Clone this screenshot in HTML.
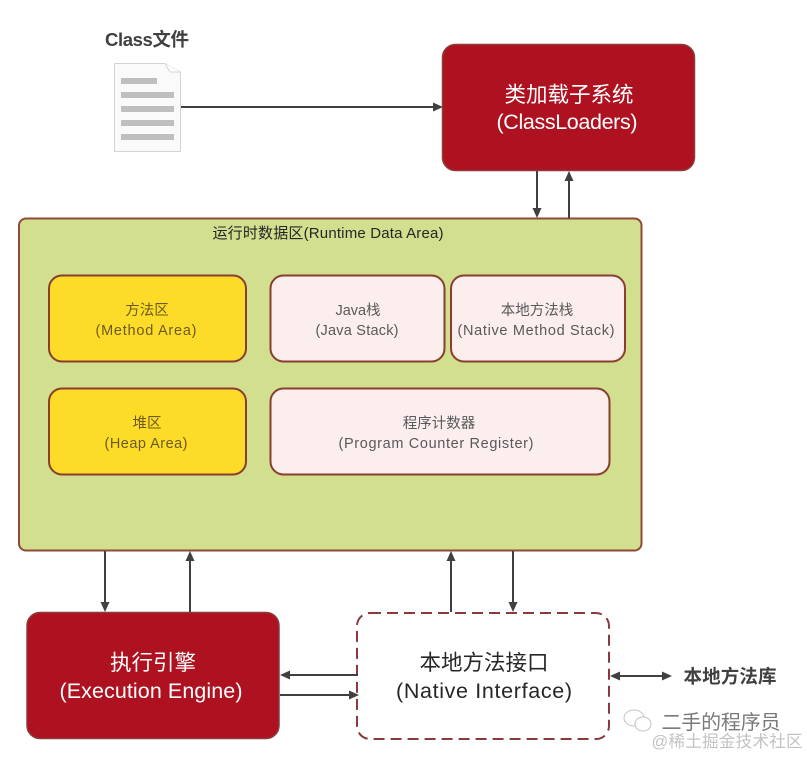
<!DOCTYPE html>
<html><head><meta charset="utf-8"><style>
html,body{margin:0;padding:0;background:#fff}
svg{display:block}
text{font-family:"Liberation Sans","Noto Sans CJK SC",sans-serif;text-anchor:middle}
.s{font-size:14.500px;fill:#595959}
.o{font-size:14.500px;fill:#6e5a1e}
.w{font-size:21.500px;fill:#fff}
.k{font-size:21.500px;fill:#262626}
.b{font-size:18.500px;font-weight:bold;fill:#404040}
.l{stroke:#404040;stroke-width:2;fill:none}
.a{fill:#404040}
</style></head><body>
<svg width="807" height="757" viewBox="0 0 807 757" xmlns="http://www.w3.org/2000/svg">
<text x="147" y="46" class="b" textLength="84">Class文件</text>
<path d="M114.500 63.500H165L180.500 72V151.500H114.500Z" fill="#fafafa" stroke="#d4d4d4"/>
<path d="M165 63.500L170 72L180.500 72" fill="#fff" stroke="#d4d4d4"/>
<g fill="#bfbfbf"><rect x="121" y="78" width="36" height="6"/><rect x="121" y="92" width="53" height="6"/><rect x="121" y="106" width="53" height="6"/><rect x="121" y="120" width="53" height="6"/><rect x="121" y="134" width="53" height="6"/></g>

<rect x="442.500" y="44.500" width="252" height="126" rx="13" fill="#ae1220" stroke="#8c3a3a" stroke-width="1.500"/>
<text x="569" y="102" class="w">类加载子系统</text>
<text x="567" y="129" class="w" textLength="141">(ClassLoaders)</text>

<rect x="19" y="218.500" width="622.500" height="332" rx="7" fill="#d1df8f" stroke="#8f4a35" stroke-width="2"/>
<text x="328" y="238" font-size="15" fill="#262626" textLength="231">运行时数据区(Runtime Data Area)</text>

<g stroke="#8a3e30" stroke-width="2">
<rect x="49" y="275.500" width="197" height="86" rx="13" fill="#fcdc28"/>
<rect x="49" y="388.500" width="197" height="86" rx="13" fill="#fcdc28"/>
<rect x="270.500" y="275.500" width="174" height="86" rx="13" fill="#fdeeee"/>
<rect x="451" y="275.500" width="174" height="86" rx="13" fill="#fdeeee"/>
<rect x="270.500" y="388.500" width="339" height="86" rx="13" fill="#fdeeee"/>
</g>
<text x="147" y="315" class="o">方法区</text>
<text x="146" y="335" class="o" textLength="101">(Method Area)</text>
<text x="147" y="428" class="o">堆区</text>
<text x="146" y="448" class="o" textLength="83">(Heap Area)</text>
<text x="358" y="315" class="s" textLength="45">Java栈</text>
<text x="357" y="335" class="s" textLength="83">(Java Stack)</text>
<text x="537" y="315" class="s">本地方法栈</text>
<text x="536" y="335" class="s" textLength="157">(Native Method Stack)</text>
<text x="439" y="428" class="s">程序计数器</text>
<text x="436" y="448" class="s" textLength="195">(Program Counter Register)</text>

<rect x="27" y="612.500" width="252" height="126" rx="13" fill="#ae1220" stroke="#8c3a3a" stroke-width="1.500"/>
<text x="153" y="670" class="w">执行引擎</text>
<text x="151" y="698" class="w" textLength="183">(Execution Engine)</text>
<rect x="357" y="613" width="252" height="126" rx="13" fill="#fff" stroke="#8a3a3f" stroke-width="2" stroke-dasharray="11 6"/>
<text x="484" y="670" class="k">本地方法接口</text>
<text x="484" y="698" class="k" textLength="176">(Native Interface)</text>

<path class="l" d="M181 107H434M537 171V210M569 218V179M105 551V604M190 612V559M451 612V559M513 551V604M358 675H288M280 695H351M618 676H664"/>
<g class="a">
<path d="M443 107L433 102.500V111.500Z"/>
<path d="M537 218L532.500 208H541.500Z"/>
<path d="M569 171L564.500 181H573.500Z"/>
<path d="M105 612L100.500 602H109.500Z"/>
<path d="M190 551L185.500 561H194.500Z"/>
<path d="M451 551L446.500 561H455.500Z"/>
<path d="M513 612L508.500 602H517.500Z"/>
<path d="M280 675L290 670.500V679.500Z"/>
<path d="M359 695L349 690.500V699.500Z"/>
<path d="M610 676L620 671.500V680.500Z"/>
<path d="M672 676L662 671.500V680.500Z"/>
</g>
<text x="730" y="683" class="b" textLength="93">本地方法库</text>

<g fill="#fff" stroke="#c4c4c4" stroke-width="1">
<ellipse cx="634" cy="718" rx="10" ry="8"/>
<ellipse cx="643" cy="724" rx="8" ry="7"/>
</g>
<text x="721" y="729" font-size="20" fill="#7a7a7a" textLength="119">二手的程序员</text>
<text x="727" y="747" font-size="16.500" fill="#c2c2c2" textLength="151">@稀土掘金技术社区</text>
</svg>
</body></html>
